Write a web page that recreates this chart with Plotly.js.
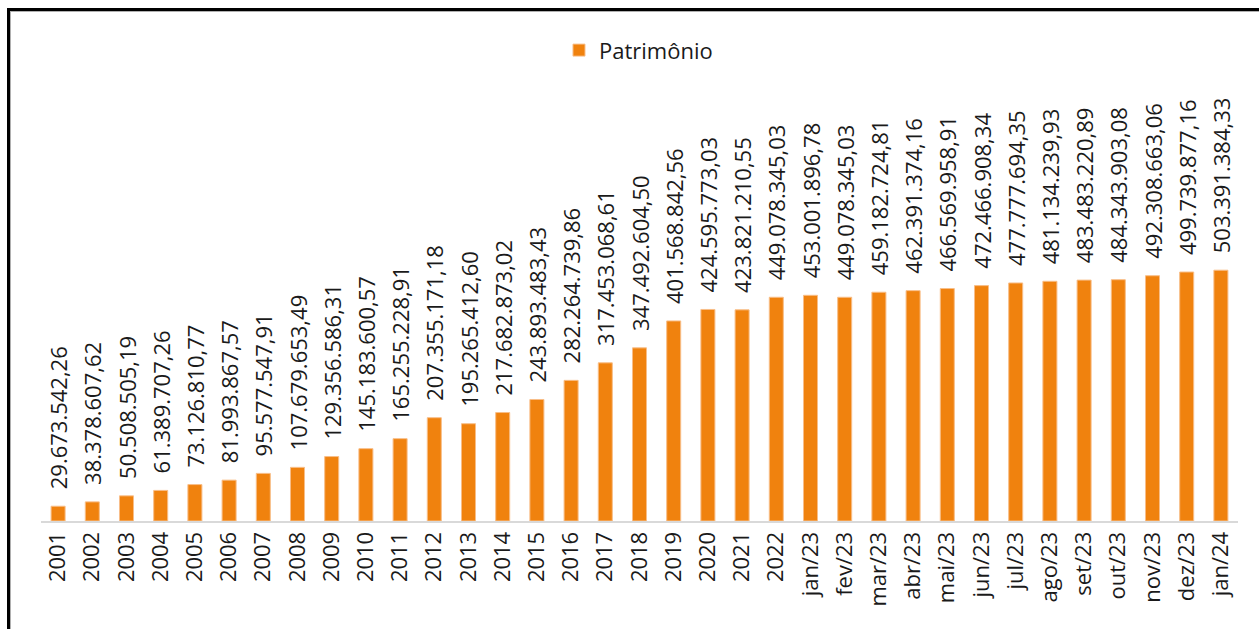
<!DOCTYPE html>
<html>
<head>
<meta charset="utf-8">
<script src="https://cdn.plot.ly/plotly-3.0.1.min.js"></script>
<style>
  body { margin: 0; background: #fff; }
  #chart { width: 1259px; height: 629px; }
  #frame {
    position: absolute; left: 7px; top: 8px; width: 1260px; height: 640px;
    border-left: 3px solid #000; border-top: 3px solid #000;
    box-shadow: inset 1px 1px 0 #b0b0b0;
    pointer-events: none;
  }
</style>
</head>
<body>
<div id="chart"></div>
<div id="frame"></div>
<script>
var periods = [
  "2001", "2002", "2003", "2004", "2005", "2006", "2007", "2008", "2009", "2010",
  "2011", "2012", "2013", "2014", "2015", "2016", "2017", "2018", "2019", "2020",
  "2021", "2022", "jan/23", "fev/23", "mar/23", "abr/23", "mai/23", "jun/23",
  "jul/23", "ago/23", "set/23", "out/23", "nov/23", "dez/23", "jan/24"
];

var patrimonio = [
  29673542.26, 38378607.62, 50508505.19, 61389707.26, 73126810.77,
  81993867.57, 95577547.91, 107679653.49, 129356586.31, 145183600.57,
  165255228.91, 207355171.18, 195265412.60, 217682873.02, 243893483.43,
  282264739.86, 317453068.61, 347492604.50, 401568842.56, 424595773.03,
  423821210.55, 449078345.03, 453001896.78, 449078345.03, 459182724.81,
  462391374.16, 466569958.91, 472466908.34, 477777694.35, 481134239.93,
  483483220.89, 484343903.08, 492308663.06, 499739877.16, 503391384.33
];

// brazilian number format: 1.234.567,89
function fmtBR(v) {
  var cents = Math.round(v * 100);
  var intPart = Math.floor(cents / 100).toString();
  var dec = (cents % 100).toString().padStart(2, "0");
  return intPart.replace(/\B(?=(\d{3})+(?!\d))/g, ".") + "," + dec;
}

var labelGap = 28e6; // empty space between bar top and its label
var font = { family: "Open Sans, Noto Sans, sans-serif", size: 22, color: "#1a1a1a" };

var bars = {
  type: "bar",
  name: "Patrimônio",
  x: periods,
  y: patrimonio,
  marker: { color: "#F0820E", line: { color: "#F8BE88", width: 1 } },
  hoverinfo: "x+y",
};

// invisible spacer bars sitting on top, they only carry the value labels
var labels = {
  type: "bar",
  x: periods,
  y: patrimonio.map(() => labelGap),
  base: patrimonio,
  marker: { color: "rgba(0,0,0,0)" },
  text: patrimonio.map(fmtBR),
  textposition: "outside",
  textangle: -90,
  constraintext: "none",
  cliponaxis: false,
  textfont: font,
  showlegend: false,
  hoverinfo: "skip",
};

var layout = {
  width: 1259,
  height: 629,
  margin: { l: 41, r: 21, t: 100, b: 108 },
  paper_bgcolor: "#fff",
  plot_bgcolor: "#fff",
  barmode: "overlay",
  bargap: 0.59,
  showlegend: true,
  legend: {
    orientation: "h",
    x: 0.444, xanchor: "left", xref: "container",
    y: 0.92, yanchor: "middle", yref: "container",
    font: font,
  },
  xaxis: {
    type: "category",
    tickangle: -90,
    tickfont: font,
    showline: true,
    linecolor: "#d9d9d9",
    linewidth: 2,
    ticks: "",
    showgrid: false,
  },
  yaxis: {
    range: [0, 845e6],
    visible: false,
    showgrid: false,
    zeroline: false,
  },
};

Plotly.newPlot("chart", [bars, labels], layout, { displayModeBar: false, staticPlot: true });
</script>
</body>
</html>
